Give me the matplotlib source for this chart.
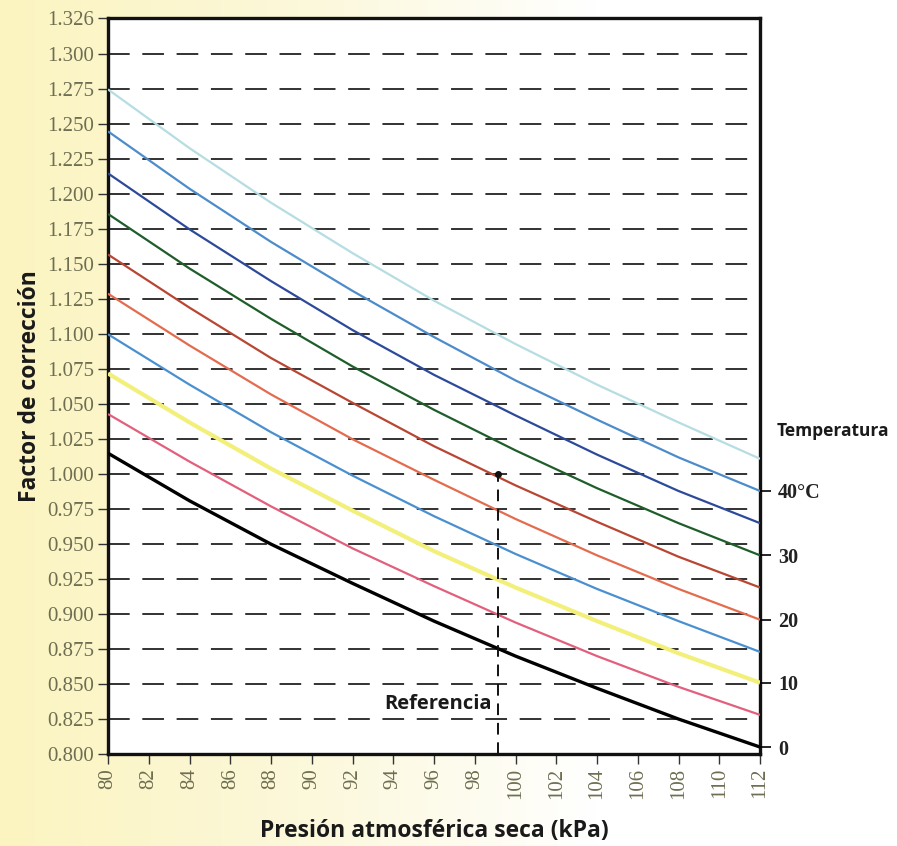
import numpy as np
import matplotlib
matplotlib.use("Agg")
import matplotlib.pyplot as plt
from matplotlib.colors import LinearSegmentedColormap

# presion atmosferica seca (kPa)
presion = [80, 84, 88, 92, 96, 100, 104, 108, 112]

# factor de correccion, una lista por temperatura
f_00 = [1.015, 0.981, 0.950, 0.922, 0.895, 0.870, 0.847, 0.825, 0.805]
f_05 = [1.043, 1.009, 0.977, 0.947, 0.920, 0.894, 0.870, 0.848, 0.828]
f_10 = [1.072, 1.037, 1.004, 0.974, 0.945, 0.919, 0.895, 0.872, 0.851]
f_15 = [1.100, 1.064, 1.030, 0.999, 0.970, 0.943, 0.918, 0.895, 0.873]
f_20 = [1.129, 1.092, 1.057, 1.025, 0.996, 0.968, 0.942, 0.918, 0.896]
f_25 = [1.157, 1.119, 1.083, 1.051, 1.020, 0.992, 0.966, 0.941, 0.919]
f_30 = [1.186, 1.147, 1.111, 1.077, 1.046, 1.017, 0.990, 0.965, 0.942]
f_35 = [1.215, 1.175, 1.138, 1.103, 1.071, 1.042, 1.014, 0.988, 0.965]
f_40 = [1.245, 1.204, 1.166, 1.131, 1.098, 1.067, 1.039, 1.012, 0.988]
f_45 = [1.275, 1.233, 1.194, 1.158, 1.124, 1.093, 1.064, 1.037, 1.011]

curvas = [f_00, f_05, f_10, f_15, f_20, f_25, f_30, f_35, f_40, f_45]
colores = ["#000000", "#e2607c", "#f2f07a", "#4a90d0", "#e46c4e",
           "#b84632", "#1f5e2a", "#2d4a9a", "#4d8ccb", "#b5dde2"]
grosores = [2.4, 1.6, 3.0, 1.6, 1.6, 1.6, 1.6, 1.6, 1.6, 1.6]

# etiquetas de la derecha (cada 10 grados)
temp_labels = ["0", "10", "20", "30", "40°C"]
temp_idx = [0, 2, 4, 6, 8]

ref_p = 99.15
ref_f = 1.000

yticks = [0.800, 0.825, 0.850, 0.875, 0.900, 0.925, 0.950, 0.975, 1.000, 1.025,
          1.050, 1.075, 1.100, 1.125, 1.150, 1.175, 1.200, 1.225, 1.250, 1.275,
          1.300, 1.326]
xticks = list(range(80, 113, 2))

fig = plt.figure(figsize=(8.97, 8.46), dpi=100)

# fondo amarillento que se aclara hacia la derecha
bg = fig.add_axes([0, 0, 1, 1], zorder=-10)
grad = np.linspace(0, 1, 256).reshape(1, -1)
cmap = LinearSegmentedColormap.from_list("bg", ["#fbf4c0", "#fcf8da", "#ffffff", "#ffffff"])
bg.imshow(grad, cmap=cmap, aspect="auto", extent=[0, 1, 0, 1])
bg.set_axis_off()

ax = fig.add_axes([0.1204, 0.1087, 0.7269, 0.8700])
ax.set_facecolor("white")

for vals, c, lw in zip(curvas, colores, grosores):
    ax.plot(presion, vals, color=c, lw=lw, solid_capstyle="butt", zorder=3)

# lineas horizontales discontinuas
for yv in yticks[1:-1]:
    ax.axhline(yv, color="#222222", lw=1.3, ls=(0, (12, 7)), zorder=2)

# punto de referencia
ax.plot([ref_p, ref_p], [0.800, ref_f], color="#111111", lw=1.4, ls=(0, (6, 4)), zorder=4)
ax.plot(ref_p, ref_f, "o", color="#111111", ms=4, zorder=5)
ax.text(ref_p - 0.3, 0.836, "Referencia", ha="right", va="center",
        fontsize=14.5, fontweight="bold", family="Open Sans", color="#1a1a1a")

ax.set_xlim(80, 112)
ax.set_ylim(0.800, 1.326)
ax.set_xticks(xticks)
ax.set_xticklabels([str(x) for x in xticks], rotation=90, family="Liberation Serif",
                   fontsize=15, color="#6e6e52")
ax.set_yticks(yticks)
ax.set_yticklabels([f"{v:.3f}" for v in yticks], family="Liberation Serif",
                   fontsize=15, color="#6e6e52")
ax.tick_params(axis="both", direction="out", length=7, width=1, color="#333333", pad=3)

for s in ax.spines.values():
    s.set_linewidth(2.4)
    s.set_color("#111111")

ax.set_ylabel("Factor de corrección", fontsize=16.5, fontweight="bold",
              family="Open Sans", color="#1a1a1a", labelpad=4)
ax.set_xlabel("Presión atmosférica seca (kPa)", fontsize=16.5, fontweight="bold",
              family="Open Sans", color="#1a1a1a", labelpad=14)

# eje derecho con temperaturas
ax2 = ax.twinx()
ax2.set_ylim(ax.get_ylim())
ax2.set_yticks([curvas[i][-1] for i in temp_idx])
ax2.set_yticklabels(temp_labels, family="Liberation Serif", fontsize=14.5,
                    fontweight="bold", color="#222222")
ax2.tick_params(axis="y", direction="out", length=8, width=1.2, pad=5)
for t, i in zip(ax2.yaxis.get_major_ticks(), temp_idx):
    t.tick2line.set_color(colores[i] if i != 2 else "#e8e070")
for s in ax2.spines.values():
    s.set_visible(False)

fig.text(0.866, 0.490, "Temperatura", fontsize=12.5, fontweight="bold",
         family="Open Sans", color="#1a1a1a", va="center", ha="left")

fig.savefig("out.png", dpi=100)
